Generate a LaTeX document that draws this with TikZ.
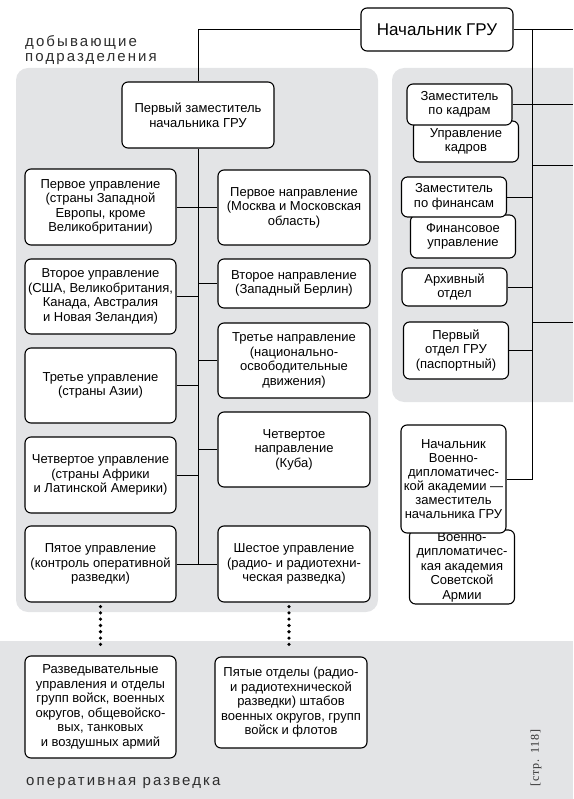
\documentclass[tikz,border=0pt]{standalone}
\usepackage{fontspec}
\setmainfont{Liberation Sans}
\newfontfamily\pagefont{Liberation Serif}
\usetikzlibrary{positioning}
\definecolor{panelgray}{RGB}{227,228,230}
\definecolor{labelgray}{RGB}{45,45,45}

\begin{document}
\begin{tikzpicture}[x=1pt,y=-1pt,
    unit/.style={draw, line width=1.1pt, rounded corners=6pt, fill=white, align=center,
        inner sep=2pt, font=\fontsize{13}{14.5}\selectfont},
    wide/.style={unit, minimum width=151pt},
    narrow/.style={unit, minimum width=105pt},
    panel/.style={fill=panelgray, rounded corners=12pt},
    link/.style={line width=0.9pt},
    dotline/.style={line width=3.6pt, line cap=round, dash pattern=on 0pt off 6.3pt},
    grouplabel/.style={inner sep=0pt, align=left, text=labelgray,
        font=\fontsize{15}{15}\selectfont\addfontfeature{LetterSpace=14}}]
          \path[use as bounding box, clip] (0,0) rectangle (573,799);
          \fill[panelgray] (0,641) rectangle (573,799);
          \fill[panel] (16,68) rectangle (378,612);
          \fill[panel] (392,68) rectangle (610,402);

          \node[grouplabel, anchor=base west] (mining) at (25,62) {добывающие\\подразделения};
          \node[grouplabel, anchor=base west] (field) at (26,785) {оперативная разведка};
          \node[rotate=90, text=labelgray, inner sep=0pt, font=\pagefont\fontsize{12}{12}\selectfont\addfontfeature{LetterSpace=8}] (page) at (536,758) {[стр. 118]};

          \node[unit, minimum width=152pt, minimum height=43pt, font=\fontsize{17}{18}\selectfont] (boss) at (437,29.5) {Начальник ГРУ};
          \node[unit, minimum width=152pt, minimum height=66pt] (deputy) at (198,115) {Первый заместитель\\начальника ГРУ};

          \node[wide, minimum height=76pt] (L1) at (100.5,207) {Первое управление\\(страны Западной\\Европы, кроме\\Великобритании)};
          \node[wide, minimum height=75pt] (L2) at (100.5,296.5) {Второе управление\\(США, Великобритания,\\Канада, Австралия\\и Новая Зеландия)};
          \node[wide, minimum height=75pt] (L3) at (100.5,385.5) {Третье управление\\(страны Азии)};
          \node[wide, minimum height=76pt] (L4) at (100.5,475) {Четвертое управление\\(страны Африки\\и Латинской Америки)};
          \node[wide, minimum height=76pt] (L5) at (100.5,564) {Пятое управление\\(контроль оперативной\\разведки)};

          \node[wide, minimum width=152pt, minimum height=75pt] (R1) at (294,207.5) {Первое направление\\(Москва и Московская\\область)};
          \node[wide, minimum width=152pt, minimum height=49pt] (R2) at (294,283.5) {Второе направление\\(Западный Берлин)};
          \node[wide, minimum width=152pt, minimum height=75pt] (R3) at (294,360.5) {Третье направление\\(национально-\\освободительные\\движения)};
          \node[wide, minimum width=152pt, minimum height=75pt] (R4) at (294,449.5) {Четвертое\\направление\\(Куба)};
          \node[wide, minimum width=152pt, minimum height=76pt] (R6) at (294,564) {Шестое управление\\(радио- и радиотехни-\\ческая разведка)};

          \node[narrow, minimum height=41pt] (staffdept) at (466,141.5) {Управление\\кадров};
          \node[narrow, minimum height=41pt] (staffdep) at (459.5,104.5) {Заместитель\\по кадрам};
          \node[narrow, minimum height=43pt] (findept) at (463,236.5) {Финансовое\\управление};
          \node[narrow, minimum height=40pt] (findep) at (454,197) {Заместитель\\по финансам};
          \node[narrow, minimum height=38pt] (archive) at (454.5,287) {Архивный\\отдел};
          \node[narrow, minimum height=57pt] (firstdept) at (456,350.5) {Первый\\отдел ГРУ\\(паспортный)};
          \node[narrow, minimum height=74pt] (academy) at (462,567) {Военно-\\дипломатичес-\\кая академия\\Советской\\Армии};
          \node[narrow, minimum height=108pt, font=\fontsize{13}{14}\selectfont] (rector) at (453.5,479) {Начальник\\Военно-\\дипломатичес-\\кой академии —\\заместитель\\начальника ГРУ};

          \node[wide, minimum height=102pt] (B1) at (100.5,707) {Разведывательные\\управления и отделы\\групп войск, военных\\округов, общевойско-\\вых, танковых\\и воздушных армий};
          \node[wide, minimum width=152pt, minimum height=91pt] (B2) at (291,702.5) {Пятые отделы (радио-\\и радиотехнической\\разведки) штабов\\военных округов, групп\\войск и флотов};

          \coordinate (edge) at (573,0);
          \coordinate (spine) at (532,0);
          \coordinate (tap1) at (532,165);
          \coordinate (tap2) at (532,322);

          \draw[link] (boss.west) -| (deputy.north);
          \draw[link] (deputy.south) -- (deputy.south |- L5.east);
          \foreach \n in {L1,L2,L3,L4,L5}
              \draw[link] (\n.east) -- (\n.east -| deputy.south);
          \foreach \n in {R1,R2,R3,R4,R6}
              \draw[link] (\n.west) -- (\n.west -| deputy.south);

          \draw[link] (boss.east) -- (boss.east -| edge);
          \draw[link] (boss.east -| spine) |- (rector.east);
          \draw[link] (staffdep.east) -- (staffdep.east -| edge);
          \draw[link] (tap1) -- (tap1 -| edge);
          \draw[link] (tap2) -- (tap2 -| edge);
          \foreach \n in {findep,archive,firstdept}
              \draw[link] (\n.east) -- (\n.east -| spine);

          \draw[dotline] ([yshift=-4pt]L5.south) -- ([yshift=6pt]B1.north);
          \draw[dotline] ([xshift=-5pt,yshift=-4pt]R6.south) -- ([xshift=-2pt,yshift=6pt]B2.north);
    \end{tikzpicture}
\end{document}
